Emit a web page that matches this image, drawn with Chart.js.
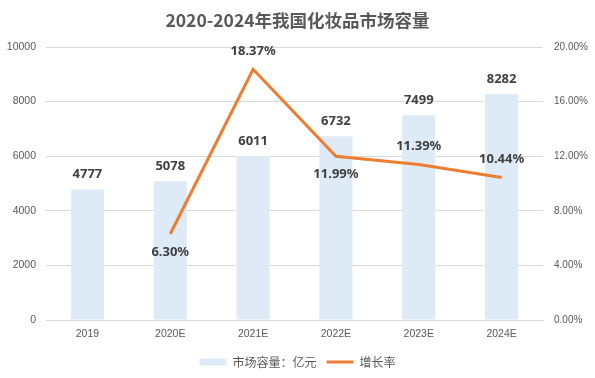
<!DOCTYPE html>
<html><head><meta charset="utf-8">
<script src="https://cdn.jsdelivr.net/npm/chart.js@4.4.1/dist/chart.umd.min.js"></script>
<style>html,body{margin:0;padding:0;background:#fff}#w{width:595px;height:378px}</style>
</head><body><div id="w"><canvas id="c"></canvas></div>
<script>
const categories = ['2019','2020E','2021E','2022E','2023E','2024E'];
const marketSize = [4777, 5078, 6011, 6732, 7499, 8282];
const growthRate = [null, 6.30, 18.37, 11.99, 11.39, 10.44];
const leftTicks = [0, 2000, 4000, 6000, 8000, 10000];
const rightTicks = [0, 4, 8, 12, 16, 20];
const seriesNames = ['市场容量：亿元', '增长率'];
const titleText = '2020-2024年我国化妆品市场容量';

const barColor = '#DEEBF7';
const lineColor = '#ED7D31';
const txt = '#595959';
const fontFamily = "'Noto Sans CJK SC', 'Noto Sans', sans-serif";
const labelFont = "'Noto Sans', 'Noto Sans CJK SC', sans-serif";
const tickFont = "'Liberation Sans', Arial, sans-serif";
// label side per line point: +1 below, -1 above
const lineLabelSide = [0, 1, -1, 1, -1, -1];

const labelPlugin = {
  id: 'labels',
  afterDatasetsDraw(chart) {
    const ctx = chart.ctx;
    ctx.save();
    ctx.font = "bold 13px " + labelFont;
    ctx.fillStyle = '#404040';
    ctx.textAlign = 'center';
    ctx.textBaseline = 'middle';
    chart.getDatasetMeta(0).data.forEach((el, i) => {
      ctx.fillText(String(marketSize[i]), el.x, el.y - 15);
    });
    chart.getDatasetMeta(1).data.forEach((el, i) => {
      if (growthRate[i] == null) return;
      ctx.fillText(growthRate[i].toFixed(2) + '%', el.x, el.y + 18 * lineLabelSide[i]);
    });
    ctx.restore();
  }
};

new Chart(document.getElementById('c'), {
  data: {
    labels: categories,
    datasets: [
      { type: 'bar', label: seriesNames[0], data: marketSize, backgroundColor: barColor,
        yAxisID: 'y', categoryPercentage: 1, barPercentage: 0.4, order: 2 },
      { type: 'line', label: seriesNames[1], data: growthRate, borderColor: lineColor,
        backgroundColor: lineColor, borderWidth: 3, pointRadius: 0, yAxisID: 'y1',
        spanGaps: false, order: 1, tension: 0 }
    ]
  },
  options: {
    responsive: true, maintainAspectRatio: false, animation: false,
    layout: { padding: { left: 0, right: 0, top: 0, bottom: 0 } },
    plugins: {
      title: { display: true, text: titleText, color: txt,
        font: { family: fontFamily, size: 17.5, weight: 'bold', lineHeight: 1.2 }, padding: { top: 10, bottom: 16 } },
      legend: { position: 'bottom',
        labels: { color: txt, font: { family: fontFamily, size: 12 }, usePointStyle: true,
          boxHeight: 7, pointStyleWidth: 27, padding: 10,
          generateLabels: (chart) => [
            { text: seriesNames[0], fillStyle: barColor, strokeStyle: barColor, lineWidth: 0, pointStyle: 'rect', datasetIndex: 0, fontColor: txt },
            { text: seriesNames[1], fillStyle: lineColor, strokeStyle: lineColor, lineWidth: 3, pointStyle: 'line', datasetIndex: 1, fontColor: txt }
          ] } },
      tooltip: { enabled: false }
    },
    scales: {
      x: { grid: { display: false, drawTicks: false }, border: { color: '#D9D9D9' },
        afterFit: (s) => { s.height = 26; },
        ticks: { color: txt, font: { family: tickFont, size: 10.5 }, padding: 8 } },
      y: { position: 'left', min: 0, max: 10000,
        afterBuildTicks: (s) => { s.ticks = leftTicks.map(v => ({ value: v })); },
        afterFit: (s) => { s.width = 46; },
        grid: { color: '#D9D9D9', drawTicks: false }, border: { display: false },
        ticks: { color: txt, font: { family: tickFont, size: 10.5 }, padding: 10,
          callback: (v) => String(v) } },
      y1: { position: 'right', min: 0, max: 20,
        afterBuildTicks: (s) => { s.ticks = rightTicks.map(v => ({ value: v })); },
        afterFit: (s) => { s.width = 52; },
        grid: { display: false, drawTicks: false }, border: { display: false },
        ticks: { color: txt, font: { family: tickFont, size: 10 }, padding: 11,
          callback: (v) => v.toFixed(2) + '%' } }
    }
  },
  plugins: [labelPlugin]
});
</script></body></html>
